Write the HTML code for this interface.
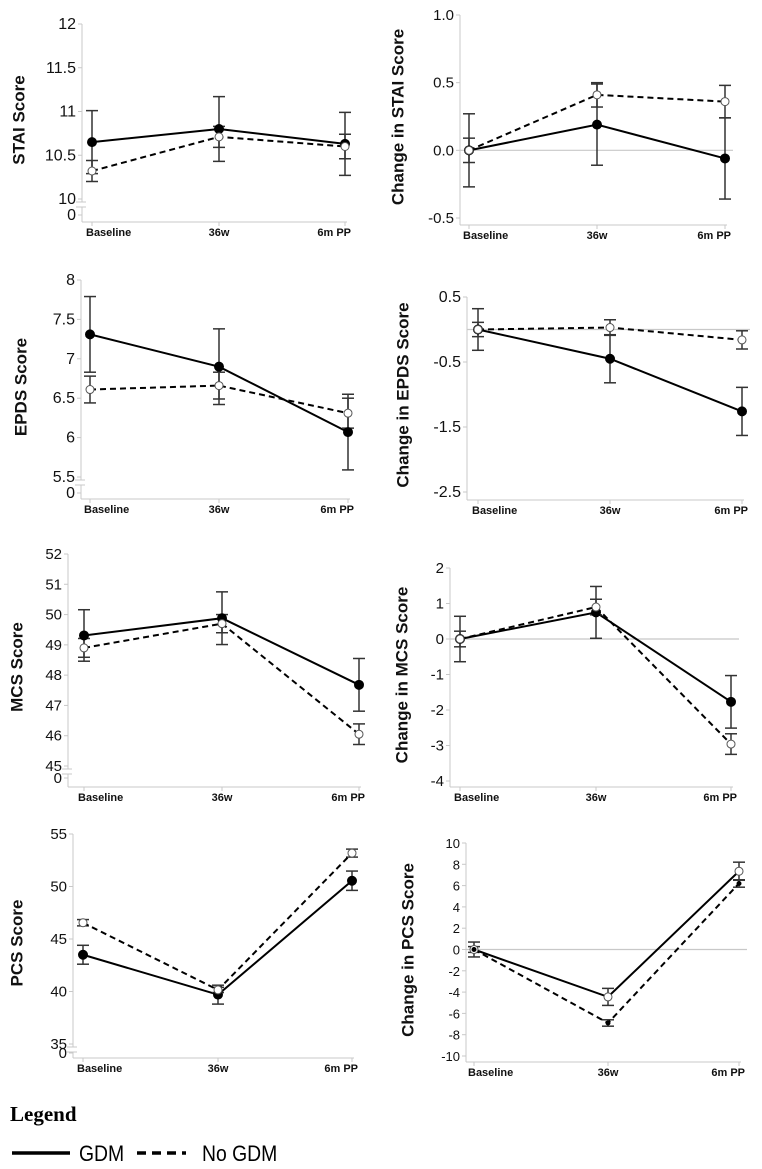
<!DOCTYPE html>
<html><head><meta charset="utf-8"><style>
html,body{margin:0;padding:0;background:#fff;}
svg{display:block;font-family:"Liberation Sans",Arial,sans-serif;}
</style></head><body>
<svg id="fig" width="762" height="1169" viewBox="0 0 762 1169">
<g>
<text x="10" y="1121" font-family="Liberation Serif,serif" font-weight="bold" font-size="21">Legend</text>
<line x1="12" y1="1153" x2="70" y2="1153" stroke="#000" stroke-width="3.5"/>
<text x="79" y="1161" font-size="22" transform="translate(79 0) scale(0.88 1) translate(-79 0)">GDM</text>
<line x1="137" y1="1153" x2="186" y2="1153" stroke="#000" stroke-width="3.5" stroke-dasharray="9 6"/>
<text x="202" y="1161" font-size="22" transform="translate(202 0) scale(0.88 1) translate(-202 0)">No GDM</text>
</g>
</svg>
<script>
const categories = ["Baseline","36w","6m PP"];

const staiGdm = [10.65,10.80,10.63];
const staiGdmErr = [0.36,0.37,0.36];
const staiNo = [10.32,10.71,10.60];
const staiNoErr = [0.12,0.12,0.14];
const staiTicks = [10,10.5,11,11.5,12];

const dStaiGdm = [0,0.19,-0.06];
const dStaiGdmErr = [0.27,0.30,0.30];
const dStaiNo = [0,0.41,0.36];
const dStaiNoErr = [0.09,0.09,0.12];
const dStaiTicks = [-0.5,0,0.5,1.0];
const dStaiTickLabels = ["-0.5","0.0","0.5","1.0"];

const epdsGdm = [7.31,6.90,6.07];
const epdsGdmErr = [0.48,0.48,0.48];
const epdsNo = [6.61,6.66,6.31];
const epdsNoErr = [0.17,0.17,0.19];
const epdsTicks = [5.5,6,6.5,7,7.5,8];

const dEpdsGdm = [0,-0.45,-1.26];
const dEpdsGdmErr = [0.32,0.37,0.37];
const dEpdsNo = [0,0.03,-0.16];
const dEpdsNoErr = [0.11,0.12,0.14];
const dEpdsTicks = [-2.5,-1.5,-0.5,0.5];

const mcsGdm = [49.31,49.88,47.68];
const mcsGdmErr = [0.85,0.87,0.87];
const mcsNo = [48.9,49.7,46.05];
const mcsNoErr = [0.31,0.30,0.34];
const mcsTicks = [45,46,47,48,49,50,51,52];

const dMcsGdm = [0,0.75,-1.77];
const dMcsGdmErr = [0.64,0.73,0.74];
const dMcsNo = [0,0.90,-2.96];
const dMcsNoErr = [0.22,0.22,0.29];
const dMcsTicks = [-4,-3,-2,-1,0,1,2];

const pcsGdm = [43.5,39.7,50.55];
const pcsGdmErr = [0.9,0.9,0.92];
const pcsNo = [46.55,40.15,53.18];
const pcsNoErr = [0.30,0.25,0.38];
const pcsTicks = [35,40,45,50,55];

const dPcsGdm = [0,-4.45,7.35];
const dPcsGdmErr = [0.70,0.80,0.85];
const dPcsNo = [0,-6.9,6.2];
const dPcsNoErr = [0.27,0.30,0.35];
const dPcsTicks = [-10,-8,-6,-4,-2,0,2,4,6,8,10];

const NS = "http://www.w3.org/2000/svg";
const svg = document.getElementById("fig");
function mk(tag, attrs, parent){
  const e = document.createElementNS(NS, tag);
  for (const k in attrs) e.setAttribute(k, attrs[k]);
  (parent||svg).appendChild(e);
  return e;
}

const panels = [
 {id:"stai", title:"STAI Score", gdm:staiGdm, ge:staiGdmErr, no:staiNo, ne:staiNoErr, ticks:staiTicks, labels:null,
  ax:82, v0:12, y0:24, v1:10, y1:199, brk:215, xy:222, xs:[92,219,345], tx:20, ty:120, fs:16, zero:false},
 {id:"change-stai", title:"Change in STAI Score", gdm:dStaiGdm, ge:dStaiGdmErr, no:dStaiNo, ne:dStaiNoErr, ticks:dStaiTicks, labels:dStaiTickLabels,
  ax:460, v0:1, y0:15, v1:-0.5, y1:218, brk:null, xy:225, xs:[469,597,725], tx:399, ty:117, fs:15, zero:true},
 {id:"epds", title:"EPDS Score", gdm:epdsGdm, ge:epdsGdmErr, no:epdsNo, ne:epdsNoErr, ticks:epdsTicks, labels:null,
  ax:81, v0:8, y0:280, v1:5.5, y1:477, brk:493, xy:499, xs:[90,219,348], tx:22, ty:387, fs:16, zero:false},
 {id:"change-epds", title:"Change in EPDS Score", gdm:dEpdsGdm, ge:dEpdsGdmErr, no:dEpdsNo, ne:dEpdsNoErr, ticks:dEpdsTicks, labels:null,
  ax:467, v0:0.5, y0:297, v1:-2.5, y1:492, brk:null, xy:500, xs:[478,610,742], tx:404, ty:395, fs:16, zero:true},
 {id:"mcs", title:"MCS Score", gdm:mcsGdm, ge:mcsGdmErr, no:mcsNo, ne:mcsNoErr, ticks:mcsTicks, labels:null,
  ax:68, v0:52, y0:554, v1:45, y1:766, brk:778, xy:787, xs:[84,222,359], tx:18, ty:667, fs:15, zero:false},
 {id:"change-mcs", title:"Change in MCS Score", gdm:dMcsGdm, ge:dMcsGdmErr, no:dMcsNo, ne:dMcsNoErr, ticks:dMcsTicks, labels:null,
  ax:450, v0:2, y0:568, v1:-4, y1:781, brk:null, xy:787, xs:[460,596,731], tx:403, ty:675, fs:15, zero:true},
 {id:"pcs", title:"PCS Score", gdm:pcsGdm, ge:pcsGdmErr, no:pcsNo, ne:pcsNoErr, ticks:pcsTicks, labels:null,
  ax:73, v0:55, y0:834, v1:35, y1:1044, brk:1053, xy:1058, xs:[83,218,352], tx:18, ty:943, fs:15, zero:false},
 {id:"change-pcs", title:"Change in PCS Score", gdm:dPcsGdm, ge:dPcsGdmErr, no:dPcsNo, ne:dPcsNoErr, ticks:dPcsTicks, labels:null,
  ax:466, v0:10, y0:843, v1:-10, y1:1056, brk:null, xy:1062, xs:[474,608,739], tx:409, ty:950, fs:13, zero:true, swapMarkers:true}
];

panels.forEach(p => {
  const g = mk("g", {});
  
  
  const y = v => p.y0 + (v - p.v0) * (p.y1 - p.y0) / (p.v1 - p.v0);
  const grey = "#c8c8c8";
  const lastX = p.xs[p.xs.length-1];
  // y axis
  const yTop = y(p.ticks[p.ticks.length-1]);
  const yBot = p.brk ? y(p.ticks[0]) + 3 : p.xy;
  const ya = mk("line", {x1:p.ax, y1:yTop, x2:p.ax, y2:yBot, stroke:grey, "stroke-width":1}, g);
  
  
  if (p.brk) {
    mk("line", {x1:p.ax, y1:yBot+5, x2:p.ax, y2:p.xy, stroke:grey, "stroke-width":1}, g);
    mk("line", {x1:p.ax-6, y1:yBot, x2:p.ax+4, y2:yBot, stroke:grey, "stroke-width":1}, g);
    mk("line", {x1:p.ax-6, y1:yBot+5, x2:p.ax+4, y2:yBot+5, stroke:grey, "stroke-width":1}, g);
    mk("line", {x1:p.ax-4, y1:p.brk, x2:p.ax, y2:p.brk, stroke:grey, "stroke-width":1}, g);
    const zt = mk("text", {x:p.ax-6, y:p.brk+5, "text-anchor":"end", "font-size":p.fs, fill:"#111"}, g);
    zt.textContent = "0";
    
    
  }
  p.ticks.forEach((t, i) => {
    const ty = y(t);
    mk("line", {x1:p.ax-4, y1:ty, x2:p.ax, y2:ty, stroke:grey, "stroke-width":1}, g);
    const tl = mk("text", {x:p.ax-6, y:ty+5, "text-anchor":"end", "font-size":p.fs, fill:"#111"}, g);
    tl.textContent = p.labels ? p.labels[i] : String(t);
    
    
  });
  // x axis
  const xa = mk("line", {x1:p.ax, y1:p.xy, x2:lastX+2, y2:p.xy, stroke:grey, "stroke-width":1}, g);
  
  
  p.xs.forEach((x, i) => {
    mk("line", {x1:x, y1:p.xy, x2:x, y2:p.xy+4, stroke:grey, "stroke-width":1}, g);
    const anchor = i === 0 ? "start" : (i === p.xs.length-1 ? "end" : "middle");
    const lx = i === 0 ? x-6 : (i === p.xs.length-1 ? x+6 : x);
    const xl = mk("text", {x:lx, y:p.xy+14, "text-anchor":anchor, "font-size":11, "font-weight":"bold", fill:"#111"}, g);
    xl.textContent = categories[i];
    
    
  });
  if (p.zero) {
    const zl = mk("line", {x1:p.ax, y1:y(0), x2:lastX+8, y2:y(0), stroke:grey, "stroke-width":1.2}, g);
    
    
  }
  // title
  const tt = mk("text", {x:p.tx, y:p.ty, "text-anchor":"middle", "font-size":17, "font-weight":"bold", fill:"#111",
    transform:`rotate(-90 ${p.tx} ${p.ty})`, "dominant-baseline":"middle"}, g);
  tt.textContent = p.title;
  
  
  // series
  const series = [
    {name:"gdm", vals:p.gdm, err:p.ge, dash:null},
    {name:"no-gdm", vals:p.no, err:p.ne, dash:"6 4"}
  ];
  series.forEach(s => {
    s.vals.forEach((v, i) => {
      const x = p.xs[i];
      const eb = mk("g", {stroke:"#333", "stroke-width":1.5}, g);
      
      
      mk("line", {x1:x, y1:y(v - s.err[i]), x2:x, y2:y(v + s.err[i])}, eb);
      mk("line", {x1:x-6, y1:y(v + s.err[i]), x2:x+6, y2:y(v + s.err[i])}, eb);
      mk("line", {x1:x-6, y1:y(v - s.err[i]), x2:x+6, y2:y(v - s.err[i])}, eb);
    });
    const pts = s.vals.map((v, i) => p.xs[i] + "," + y(v)).join(" ");
    const attrs = {points:pts, fill:"none", stroke:"#000", "stroke-width":2};
    if (s.dash) attrs["stroke-dasharray"] = s.dash;
    const pl = mk("polyline", attrs, g);
    
    
  });
  series.forEach(s => {
    s.vals.forEach((v, i) => {
      const filled = p.swapMarkers ? s.name === "no-gdm" : s.name === "gdm";
      const r = filled ? (p.swapMarkers ? 2 : 4.5) : 4;
      const c = mk("circle", {cx:p.xs[i], cy:y(v), r:r, fill:filled ? "#000" : "#fff",
        stroke:filled ? "#000" : "#555", "stroke-width":1}, g);
      
      
    });
  });
});
</script>
</body></html>
